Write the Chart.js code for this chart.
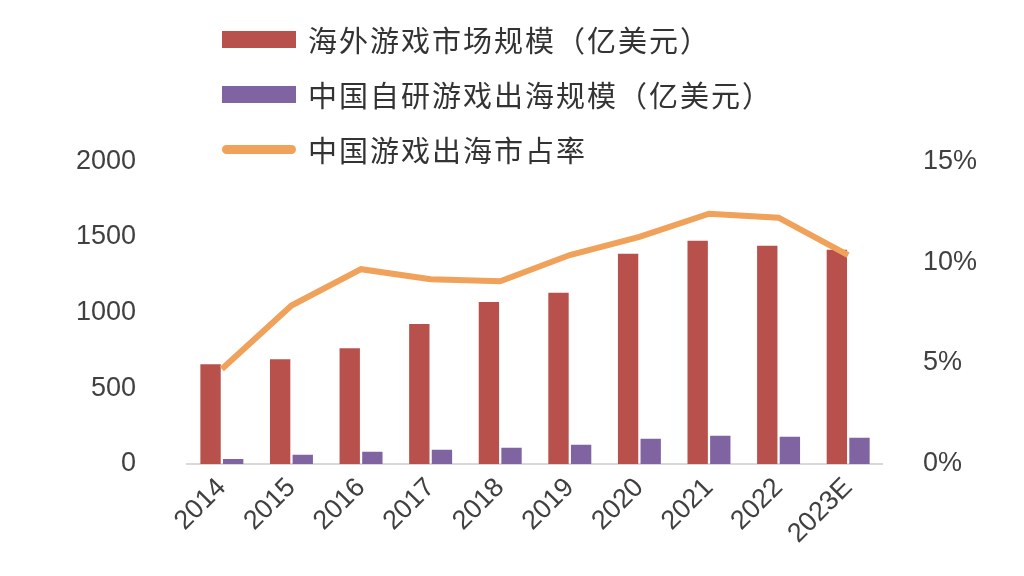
<!DOCTYPE html>
<html><head><meta charset="utf-8">
<script src="https://cdn.jsdelivr.net/npm/chart.js@4"></script>
<style>
body{margin:0;width:1024px;height:576px;background:#fff;overflow:hidden;font-family:"Noto Sans CJK SC",sans-serif;}
#legend{position:absolute;left:222px;top:12px;font-size:29px;color:#333;line-height:55px;letter-spacing:2px;z-index:2;}
.it{display:flex;align-items:center;}
.sw{width:74px;height:17px;margin-right:12px;}
.ln{width:74px;height:9px;border-radius:5px;margin-right:12px;}
#wrap{position:absolute;left:0;top:102px;width:1024px;height:474px;}
</style></head><body>
<div id="legend">
<div class="it"><div class="sw" style="background:#b8504b"></div>海外游戏市场规模（亿美元）</div>
<div class="it"><div class="sw" style="background:#8064a2"></div>中国自研游戏出海规模（亿美元）</div>
<div class="it"><div class="ln" style="background:#f0a15a"></div>中国游戏出海市占率</div>
</div>
<div id="wrap"><canvas id="c"></canvas></div>
<script>
const years = ['2014','2015','2016','2017','2018','2019','2020','2021','2022','2023E'];
const overseas = [658, 691, 764, 924, 1070, 1130, 1389, 1475, 1442, 1415];
const chinaSelf = [33, 60, 80, 93, 106, 126, 166, 186, 180, 173];
const share = [4.7, 7.85, 9.65, 9.15, 9.05, 10.35, 11.25, 12.4, 12.2, 10.35];

const tickFont = { family: 'Arial, "Liberation Sans", sans-serif', size: 27 };
new Chart(document.getElementById('c'), {
  data: {
    labels: years,
    datasets: [
      { type: 'line', data: share, yAxisID: 'y2', borderColor: '#f0a15a', borderWidth: 6,
        pointRadius: 0, tension: 0, order: 0 },
      { type: 'bar', data: overseas, yAxisID: 'y', backgroundColor: '#b8504b',
        barPercentage: 0.9, categoryPercentage: 0.65, order: 1 },
      { type: 'bar', data: chinaSelf, yAxisID: 'y', backgroundColor: '#8064a2',
        barPercentage: 0.9, categoryPercentage: 0.65, order: 1 },
    ]
  },
  options: {
    responsive: true, maintainAspectRatio: false, animation: false,
    layout: { padding: { left: 33, right: 15, top: 10, bottom: 18 } },
    plugins: { legend: { display: false }, tooltip: { enabled: false } },
    scales: {
      x: { grid: { display: false, drawTicks: false }, border: { color: '#d9d9d9', width: 2 },
        ticks: { font: tickFont, color: '#404040', maxRotation: 45, minRotation: 45, padding: 8 } },
      y: { min: 0, max: 2000, grid: { display: false }, border: { display: false },
        ticks: { stepSize: 500, font: tickFont, color: '#404040', padding: 43, callback: v => String(v) } },
      y2: { position: 'right', min: 0, max: 15, grid: { display: false }, border: { display: false },
        ticks: { stepSize: 5, font: tickFont, color: '#404040', padding: 32, callback: v => v + '%' } }
    }
  }
});
</script>
</body></html>
